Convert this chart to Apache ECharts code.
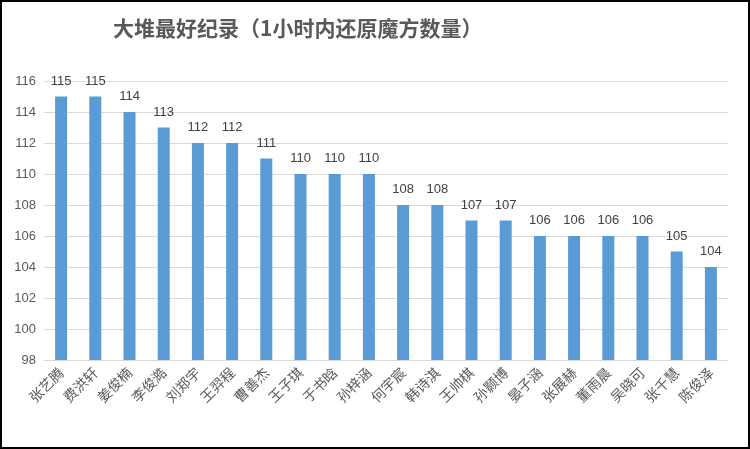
<!DOCTYPE html>
<html lang="zh-CN">
<head>
    <meta charset="UTF-8">
    <script src="https://cdn.jsdelivr.net/npm/echarts@6/dist/echarts.min.js"></script>
    <title>大堆最好纪录</title>
    <style>
        * { margin: 0; padding: 0; }
        body { background: #fff; }
        #main {
            width: 746px;
            height: 445px;
            border: 2px solid #000;
        }
    </style>
</head>
<body>
<div id="main"></div>
<script>
    // 名字和成绩
    var names = ['张艺腾', '费洪轩', '姜俊楠', '李俊澔', '刘郑宇', '王羿程', '曹善杰', '王子琪', '于书晗', '孙梓涵',
        '何宇宸', '韩诗淇', '王帅棋', '孙颢博', '晏子涵', '张展赫', '董雨晨', '吴晓可', '张千慧', '陈俊泽'];
    var scores = [115, 115, 114, 113, 112, 112, 111, 110, 110, 110,
        108, 108, 107, 107, 106, 106, 106, 106, 105, 104];

    var myChart = echarts.init(document.getElementById('main'));
    var option = {
        animation: false,
        title: {
            text: '大堆最好纪录（1小时内还原魔方数量）',
            left: 106,
            top: 11,
            textStyle: {
                fontFamily: 'Noto Sans CJK SC',
                fontSize: 21,
                fontWeight: 'bold',
                color: '#595959'
            }
        },
        grid: {
            left: 42,
            right: 20,
            top: 79,
            bottom: 87
        },
        xAxis: {
            type: 'category',
            data: names,
            axisLine: { lineStyle: { color: '#d9d9d9' } },
            axisTick: { show: false },
            axisLabel: {
                interval: 0,
                rotate: 45,
                margin: 10,
                fontFamily: 'Noto Sans CJK SC',
                fontSize: 14,
                color: '#595959'
            }
        },
        yAxis: {
            type: 'value',
            min: 98,
            max: 116,
            interval: 2,
            axisLine: { show: false },
            axisTick: { show: false },
            axisLabel: {
                fontSize: 13,
                color: '#595959',
                margin: 8
            },
            splitLine: { lineStyle: { color: '#d9d9d9' } }
        },
        series: [
            {
                type: 'bar',
                data: scores,
                barWidth: 12,
                itemStyle: { color: '#5b9bd5' },
                label: {
                    show: true,
                    position: 'top',
                    distance: 9,
                    fontSize: 13,
                    color: '#404040'
                }
            }
        ]
    };
    myChart.setOption(option);
</script>
</body>
</html>
